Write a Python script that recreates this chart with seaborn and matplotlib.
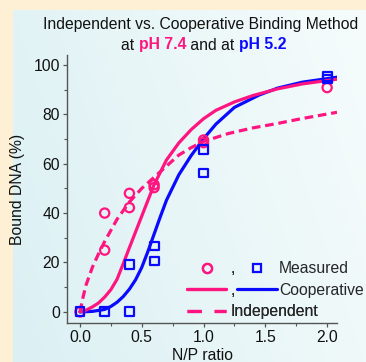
import numpy as np
import pandas as pd
import matplotlib
matplotlib.use("Agg")
import matplotlib.pyplot as plt
from matplotlib.lines import Line2D
from matplotlib.ticker import MultipleLocator
import seaborn as sns

# Measured binding at pH 7.4 (circles) and pH 5.2 (squares)
np_ratio_74 = [0.0, 0.2, 0.2, 0.4, 0.4, 0.6, 0.6, 1.0, 1.0, 2.0]
bound_74 = [0.0, 40.0, 25.0, 48.0, 42.2, 51.5, 50.3, 69.6, 68.5, 90.8]
np_ratio_52 = [0.0, 0.2, 0.4, 0.4, 0.6, 0.6, 1.0, 1.0, 2.0, 2.0]
bound_52 = [0.0, 0.0, 0.0, 19.3, 26.7, 20.6, 65.9, 56.2, 95.3, 94.3]

# Cooperative-binding fit, pH 7.4
coop74_x = [0.0, 0.05, 0.1, 0.15, 0.2, 0.25, 0.3, 0.35, 0.4, 0.5, 0.6, 0.7, 0.8,
            0.9, 1.0, 1.1, 1.25, 1.4, 1.6, 1.8, 2.08]
coop74_y = [0.0, 0.7, 2.0, 3.6, 6.0, 9.0, 13.2, 19.5, 26.0, 38.8, 51.5, 61.5, 68.4,
            73.8, 78.2, 81.6, 85.0, 87.6, 90.3, 92.3, 94.2]
# Cooperative-binding fit, pH 5.2
coop52_x = [0.0, 0.1, 0.2, 0.25, 0.3, 0.35, 0.4, 0.45, 0.5, 0.55, 0.6, 0.65, 0.7,
            0.8, 0.9, 1.0, 1.1, 1.25, 1.45, 1.6, 1.8, 2.08]
coop52_y = [0.0, 0.2, 1.0, 2.2, 3.9, 6.2, 9.2, 13.0, 18.0, 24.5, 31.5, 38.5, 45.2,
            55.5, 63.3, 70.1, 76.0, 82.8, 87.8, 90.6, 93.0, 95.0]
# Independent-binding fit, pH 7.4
indep74_x = [0.0, 0.025, 0.05, 0.1, 0.15, 0.2, 0.3, 0.4, 0.5, 0.6, 0.7, 0.8, 0.9,
             1.0, 1.2, 1.4, 1.6, 1.8, 2.08]
indep74_y = [0.0, 6.0, 11.0, 18.0, 23.5, 28.5, 37.5, 44.5, 50.0, 54.5, 59.0, 63.5,
             66.5, 69.0, 72.2, 74.5, 76.3, 78.3, 80.8]

x_ticks = [0.0, 0.5, 1.0, 1.5, 2.0]
y_ticks = [0, 20, 40, 60, 80, 100]

PINK = "#ff1580"
BLUE = "#0a0aff"
SPINE = "#555555"
FONT = ["Liberation Sans", "DejaVu Sans"]
FS = 11.3

sns.set_theme(style="ticks")
plt.rcParams["font.family"] = FONT
plt.rcParams["font.size"] = FS

W, H = 366, 362
fig = plt.figure(figsize=(W / 100, H / 100), dpi=100)
fig.patch.set_facecolor("#fdf0d5")

# light gradient panel behind the chart
bg = fig.add_axes([13 / W, 0, 1 - 13 / W, 1 - 10 / H])
bg.set_axis_off()
gx = np.linspace(0, 1, 200)
gy = np.linspace(0, 1, 200)
GX, GY = np.meshgrid(gx, gy)
t = np.clip(0.75 * GX + 0.25 * (1 - GY), 0, 1)
c0 = np.array([0xdb, 0xf0, 0xf3]) / 255
c1 = np.array([0xf6, 0xfc, 0xfc]) / 255
img = c0[None, None, :] * (1 - t[..., None]) + c1[None, None, :] * t[..., None]
bg.imshow(img, aspect="auto", extent=[0, 1, 0, 1])
bg.set_zorder(-5)

ax = fig.add_axes([67 / W, (H - 323) / H, (337 - 67) / W, (323 - 55) / H])
ax.set_facecolor("none")

df_c52 = pd.DataFrame({"x": coop52_x, "y": coop52_y})
df_c74 = pd.DataFrame({"x": coop74_x, "y": coop74_y})
df_i74 = pd.DataFrame({"x": indep74_x, "y": indep74_y})
df_m74 = pd.DataFrame({"x": np_ratio_74, "y": bound_74})
df_m52 = pd.DataFrame({"x": np_ratio_52, "y": bound_52})

sns.lineplot(data=df_c52, x="x", y="y", ax=ax, color=BLUE, lw=2.3,
             estimator=None, sort=False, zorder=2)
sns.lineplot(data=df_c74, x="x", y="y", ax=ax, color=PINK, lw=2.3,
             estimator=None, sort=False, zorder=3)
sns.lineplot(data=df_i74, x="x", y="y", ax=ax, color=PINK, lw=2.3,
             estimator=None, sort=False, zorder=3, dashes=False)
ax.lines[-1].set_dashes((2.7, 1.5))
sns.scatterplot(data=df_m74, x="x", y="y", ax=ax, marker="o", s=44,
                facecolors="none", edgecolor=PINK, linewidth=1.6, zorder=4)
sns.scatterplot(data=df_m52, x="x", y="y", ax=ax, marker="s", s=40,
                facecolors="none", edgecolor=BLUE, linewidth=1.6, zorder=5)

ax.set_xlim(-0.105, 2.08)
ax.set_ylim(-4.5, 104)
ax.set_xticks(x_ticks)
ax.set_xticklabels([f"{v:.1f}" for v in x_ticks])
ax.set_yticks(y_ticks)
ax.xaxis.set_minor_locator(MultipleLocator(0.25))
ax.yaxis.set_minor_locator(MultipleLocator(10))
for side in ("top", "right"):
    ax.spines[side].set_visible(False)
for side in ("left", "bottom"):
    ax.spines[side].set_color(SPINE)
    ax.spines[side].set_linewidth(1.0)
ax.tick_params(which="major", length=3, width=0.9, color=SPINE, labelsize=FS,
               labelcolor="#111111", pad=2)
ax.tick_params(which="minor", length=2, width=0.8, color=SPINE)
ax.set_xlabel("N/P ratio", fontsize=FS, color="#111111", labelpad=2)
ax.set_ylabel("Bound DNA (%)", fontsize=FS, color="#111111", labelpad=6)

# two-column legend: pink entries on the left, blue on the right
def fig_xy(px, py):
    return (px / W, 1 - py / H)

LEG = dict(loc="upper left", frameon=False, borderpad=0, borderaxespad=0,
           labelspacing=0.42, fontsize=FS, numpoints=1)
hA = [Line2D([], [], ls="none", marker="o", ms=6.6, mfc="none", mec=PINK, mew=1.6),
      Line2D([], [], color=PINK, lw=2.3),
      Line2D([], [], color=PINK, lw=2.3, dashes=(4.5, 4))]
legA = fig.legend(hA, [",", ",", "Independent"], bbox_to_anchor=fig_xy(187, 261),
                  handlelength=2.5, handletextpad=0.25, **LEG)
hB = [Line2D([], [], ls="none", marker="s", ms=6.3, mfc="none", mec=BLUE, mew=1.6),
      Line2D([], [], color=BLUE, lw=2.3)]
legB = fig.legend(hB, ["Measured", "Cooperative"], bbox_to_anchor=fig_xy(237, 261),
                  handlelength=2.55, handletextpad=0.12, **LEG)
fig.add_artist(legA)

# two-line title with coloured pH labels
fig.text(201 / W, 1 - 25 / H, "Independent vs. Cooperative Binding Method",
         ha="center", va="center", fontsize=FS, color="#111111")
pieces = [("at ", "#111111", "normal"), ("pH 7.4", PINK, "bold"),
          (" and at ", "#111111", "normal"), ("pH 5.2", BLUE, "bold")]
renderer = fig.canvas.get_renderer()
texts = [fig.text(0, 1 - 45 / H, s, ha="left", va="center", fontsize=FS,
                  color=c, fontweight=w) for s, c, w in pieces]
widths = [tx.get_window_extent(renderer).width for tx in texts]
x0 = 204 - sum(widths) / 2
for tx, wdt in zip(texts, widths):
    tx.set_x(x0 / W)
    x0 += wdt

fig.savefig("out.png", dpi=100)
